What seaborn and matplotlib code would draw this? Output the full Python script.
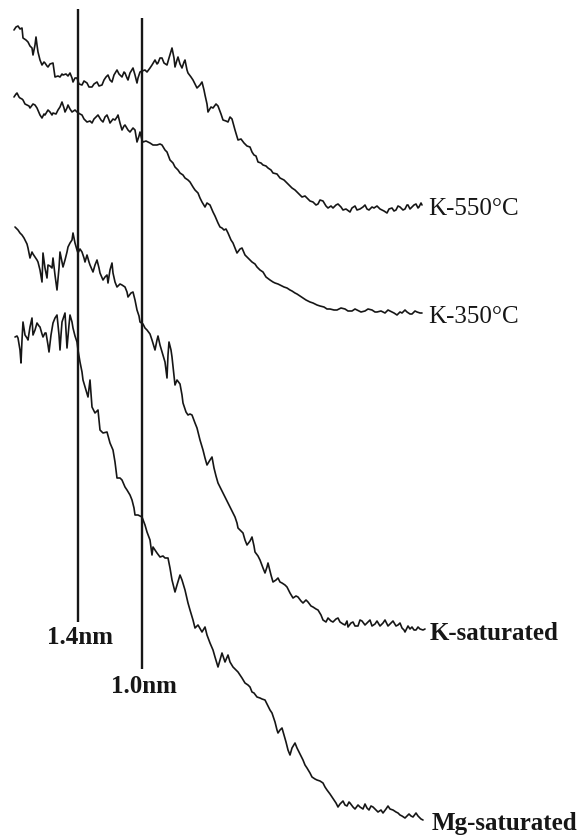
import matplotlib
matplotlib.use("Agg")
import matplotlib.pyplot as plt
import seaborn as sns
import pandas as pd

# traces: (position, offset intensity), y grows downward
k550 = [(14,30),(16,27),(18,26),(20,29),(22,28),(23,38),(26,40),(28,42),(30,46),(32,48),(33,55),(35,45),(36,37),(37,45),
        (38,52),(40,60),(42,65),(44,62),(45,63),(47,66),(48,67),(50,64),(53,63),(54,70),(55,77),(58,76),(60,77),(62,74),
        (63,75),(66,74),(68,76),(70,73),(72,78),(73,82),(75,78),(77,78),(79,84),(82,85),(84,81),(87,83),(89,87),(92,87),
        (94,84),(97,82),(99,86),(102,85),(104,80),(106,77),(108,75),(110,80),(112,82),(114,75),(117,70),(119,74),(122,77),
        (124,72),(125,73),(127,78),(128,80),(130,73),(133,68),(135,75),(137,83),(138,78),(140,72),(142,71),(145,70),
        (147,72),(150,68),(152,65),(155,60),(157,64),(158,63),(160,58),(162,58),(164,63),(167,65),(169,58),(172,48),
        (174,58),(175,67),(177,60),(178,57),(180,64),(182,68),(184,62),(185,60),(187,70),(188,73),(191,77),(193,80),
        (195,84),(197,88),(200,85),(202,82),(204,90),(205,95),(207,104),(208,112),(211,107),(213,108),(216,104),(218,106),
        (221,114),(223,120),(226,121),(228,122),(230,117),(232,119),(235,130),(238,140),(241,139),(244,143),(247,146),
        (250,147),(252,152),(254,155),(256,156),(258,162),(261,163),(263,165),(266,166),(268,168),(271,170),(273,173),
        (277,174),(280,178),(284,180),(287,183),(290,186),(292,188),(295,190),(298,193),(300,195),(302,197),(305,196),
        (307,198),(310,201),(313,202),(316,205),(318,204),(320,200),(323,201),(326,206),(328,208),(331,206),(333,208),
        (336,205),(338,204),(341,207),(343,210),(346,209),(350,212),(352,208),(355,206),(357,210),(360,209),(363,207),
        (365,205),(367,209),(369,210),(372,207),(374,208),(377,206),(380,209),(384,211),(387,213),(389,209),(392,208),
        (394,211),(396,210),(398,206),(400,207),(403,210),(405,209),(407,205),(408,205),(410,209),(412,207),(414,205),
        (416,204),(418,208),(419,207),(421,203),(422,205)]

k350 = [(14,97),(16,94),(17,93),(19,97),(20,98),(22,99),(23,100),(25,104),(27,105),(29,106),(30,108),(33,104),(35,105),
        (37,108),(40,115),(42,118),(44,114),(45,115),(48,110),(50,112),(52,115),(53,113),(56,114),(58,110),(60,107),
        (62,102),(64,108),(65,112),(67,108),(68,105),(70,109),(72,112),(75,110),(77,112),(80,114),(82,115),(84,119),
        (87,122),(90,121),(92,123),(94,119),(95,118),(97,116),(98,115),(101,120),(103,122),(105,117),(107,115),(109,120),
        (110,123),(113,119),(115,120),(117,117),(118,115),(120,123),(122,130),(124,126),(125,125),(128,130),(130,132),
        (133,128),(135,130),(137,142),(139,136),(140,132),(142,140),(143,142),(146,141),(150,143),(153,145),(157,145),
        (160,144),(162,145),(165,150),(167,152),(170,160),(173,163),(175,167),(178,170),(180,173),(183,175),(185,178),
        (188,180),(190,182),(193,187),(195,190),(198,193),(200,198),(202,202),(205,207),(207,203),(210,205),(213,212),
        (215,216),(218,223),(220,227),(222,228),(224,230),(226,229),(228,233),(231,240),(233,243),(235,248),(237,253),
        (240,249),(242,248),(245,255),(247,257),(250,260),(252,262),(255,264),(257,267),(260,270),(263,272),(266,277),
        (270,280),(273,282),(275,283),(278,284),(280,285),(284,287),(287,288),(290,290),(292,291),(295,293),(297,294),
        (300,296),(303,298),(306,300),(310,302),(313,303),(317,305),(320,306),(324,307),(327,309),(330,309),(334,310),
        (337,310),(341,308),(345,309),(348,311),(352,311),(355,309),(357,310),(361,312),(365,311),(368,309),(372,310),
        (375,312),(377,312),(381,311),(385,313),(388,310),(390,311),(394,313),(397,315),(400,312),(402,313),(405,310),
        (407,312),(410,314),(412,314),(415,311),(417,312),(420,313),(422,313)]

ksat = [(15,227),(17,229),(18,230),(20,233),(22,235),(24,238),(25,240),(27,244),(28,248),(30,258),(32,252),(33,254),
        (35,257),(37,260),(38,262),(40,270),(42,282),(43,253),(45,268),(47,278),(48,265),(50,266),(52,268),(53,258),
        (55,275),(57,290),(59,268),(60,252),(62,262),(63,267),(65,260),(67,252),(68,247),(70,243),(72,240),(73,233),
        (75,243),(77,250),(78,253),(80,249),(82,252),(84,258),(85,262),(87,255),(89,262),(90,265),(93,272),(95,265),
        (97,260),(99,268),(100,273),(103,280),(105,277),(107,275),(108,283),(110,270),(112,263),(113,273),(115,282),
        (117,287),(120,284),(122,285),(125,287),(127,292),(128,297),(131,293),(133,292),(135,300),(137,310),(139,316),
        (140,322),(143,324),(145,328),(147,330),(150,334),(152,340),(155,350),(157,340),(158,336),(160,345),(163,355),
        (165,362),(167,378),(168,355),(169,342),(171,350),(172,357),(174,375),(175,385),(177,380),(180,384),(182,395),
        (183,403),(186,412),(188,415),(190,414),(192,415),(195,423),(197,428),(200,440),(203,450),(205,458),(207,465),
        (210,460),(212,457),(214,468),(216,476),(218,483),(221,489),(223,493),(226,499),(228,503),(231,509),(235,517),
        (237,523),(238,528),(241,531),(243,533),(245,540),(247,545),(250,541),(252,537),(254,546),(255,552),(258,556),
        (260,560),(263,568),(265,573),(267,567),(268,563),(271,575),(273,582),(276,580),(278,578),(280,582),(282,583),
        (285,585),(287,587),(290,593),(293,598),(296,596),(298,597),(301,601),(303,603),(306,600),(308,602),(311,606),
        (313,607),(316,609),(318,610),(321,615),(323,620),(326,622),(328,618),(331,621),(333,622),(336,619),(338,618),
        (340,622),(343,624),(345,625),(347,621),(348,627),(351,623),(353,622),(355,626),(358,626),(360,620),(362,621),
        (365,625),(367,623),(370,620),(372,626),(375,624),(377,621),(380,626),(383,623),(385,620),(388,626),(390,624),
        (393,621),(396,626),(398,625),(400,623),(402,628),(404,630),(405,632),(407,628),(408,626),(410,629),(412,627),
        (414,630),(416,630),(418,627),(420,629),(423,630),(425,629)]

mgsat = [(15,337),(17,336),(18,338),(20,350),(21,363),(22,340),(23,322),(25,335),(27,338),(28,340),(30,327),(32,318),
         (33,335),(35,330),(37,323),(39,326),(40,327),(42,334),(43,337),(45,333),(46,333),(48,345),(49,352),(51,335),
         (53,323),(55,318),(57,315),(59,335),(60,350),(61,335),(62,322),(64,316),(65,313),(66,330),(67,348),(69,325),
         (70,315),(72,322),(73,328),(75,336),(77,342),(78,350),(80,362),(82,372),(83,380),(86,390),(88,397),(90,380),
         (92,407),(95,413),(98,410),(100,430),(103,433),(107,432),(110,443),(113,450),(115,462),(117,478),(120,478),
         (122,480),(125,487),(127,490),(130,495),(132,500),(134,508),(135,515),(138,515),(140,516),(142,517),(145,525),
         (147,532),(150,540),(152,555),(153,547),(155,550),(157,553),(160,557),(163,556),(165,558),(168,558),(170,568),
         (172,580),(175,592),(177,585),(180,575),(182,580),(185,590),(188,603),(190,610),(193,620),(195,628),(198,625),
         (202,632),(205,627),(207,635),(210,643),(213,650),(215,657),(218,667),(220,660),(222,653),(225,662),(228,655),
         (230,662),(233,667),(236,670),(238,672),(242,678),(245,683),(248,685),(250,687),(252,692),(254,693),(257,697),
         (260,698),(262,699),(265,700),(268,706),(270,710),(272,713),(275,722),(277,730),(278,733),(280,730),(282,728),
         (284,735),(286,742),(288,750),(290,755),(292,748),(295,743),(297,748),(299,752),(301,756),(303,760),(305,765),
         (307,768),(310,773),(312,777),(315,779),(317,780),(320,781),(323,783),(325,787),(327,790),(330,794),(332,797),
         (334,800),(336,803),(338,807),(340,804),(343,801),(345,805),(347,806),(349,802),(350,803),(353,807),(355,809),
         (358,805),(360,807),(363,809),(365,804),(367,808),(369,810),(371,806),(373,807),(376,810),(378,812),(381,810),
         (383,813),(386,809),(388,806),(390,809),(393,810),(396,812),(398,813),(400,815),(402,816),(405,818),(407,816),
         (409,814),(411,816),(413,817),(416,813),(418,816),(421,819),(423,820)]

trace_names = ["K-550°C", "K-350°C", "K-saturated", "Mg-saturated"]
traces = [k550, k350, ksat, mgsat]

# reference d-spacing markers
peak_labels = ["1.4nm", "1.0nm"]
peak_pos = [77.5, 141.5]
peak_top = [9, 18]
peak_bottom = [622, 669]

sns.set_style("white")
plt.rcParams["font.family"] = ["Liberation Serif", "DejaVu Serif"]

ink = "#161616"
fig = plt.figure(figsize=(5.84, 8.36), dpi=100)
ax = fig.add_axes([0, 0, 1, 1])

for name, tr in zip(trace_names, traces):
    df = pd.DataFrame(tr, columns=["pos", "intensity"])
    sns.lineplot(data=df, x="pos", y="intensity", ax=ax, color=ink, lw=1.2,
                 estimator=None, sort=False, legend=False)

for p, t, b in zip(peak_pos, peak_top, peak_bottom):
    ax.vlines(p, t, b, color=ink, lw=1.7)

# labels at end of each trace
label_xy = [(428, 215, "normal"), (428, 323, "normal"), (430, 640, "bold"), (432, 830, "bold")]
for name, (lx, ly, w) in zip(trace_names, label_xy):
    ax.text(lx, ly, name, fontsize=18, fontweight=w, ha="left", va="baseline", color=ink)

ax.text(47, 644, peak_labels[0], fontsize=18, fontweight="bold", ha="left", va="baseline", color=ink)
ax.text(111, 693, peak_labels[1], fontsize=18, fontweight="bold", ha="left", va="baseline", color=ink)

ax.set_xlim(0, 584)
ax.set_ylim(836, 0)
ax.axis("off")

fig.savefig("out.png", dpi=100, facecolor="white")
